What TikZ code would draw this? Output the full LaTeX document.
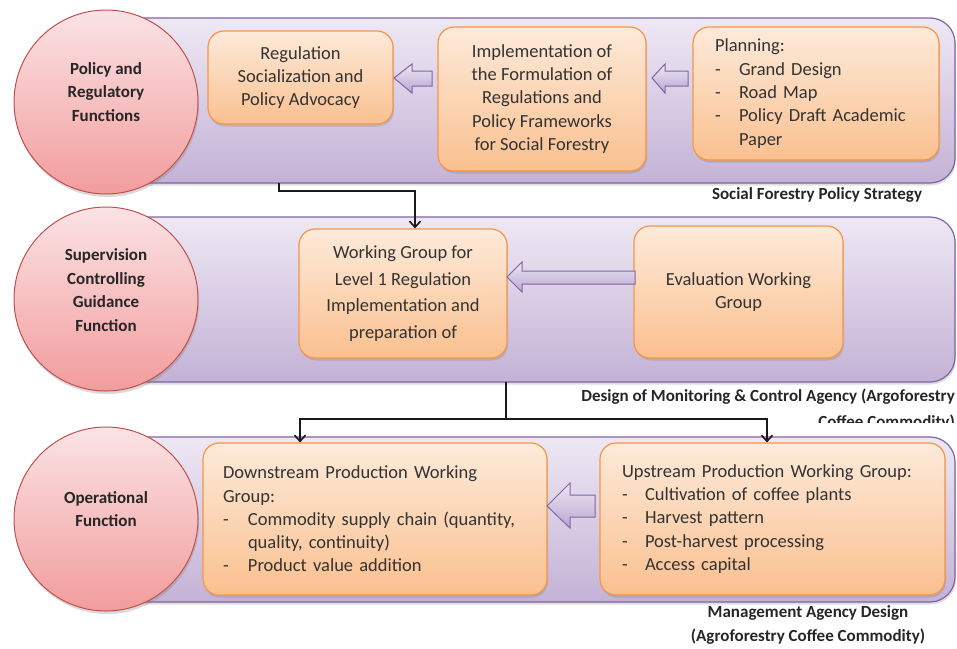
\documentclass[tikz,border=0pt]{standalone}
\usepackage{fontspec}
\setmainfont{Carlito}
\usetikzlibrary{arrows.meta,shadows,calc}
\definecolor{panTop}{HTML}{EEE8F4}
\definecolor{panBot}{HTML}{C4B2D6}
\definecolor{panEdge}{HTML}{8064A2}
\definecolor{boxTop}{HTML}{FDEADA}
\definecolor{boxBot}{HTML}{FAC08F}
\definecolor{boxEdge}{HTML}{F79646}
\definecolor{circTop}{HTML}{FBE3E5}
\definecolor{circBot}{HTML}{F29C9C}
\definecolor{circEdge}{HTML}{C0504D}
\definecolor{arrTop}{HTML}{EEE7F5}
\definecolor{arrBot}{HTML}{B9A6D0}
\definecolor{txt}{HTML}{333333}
\tikzset{
  panel/.style={draw=panEdge, line width=1.2pt, rounded corners=25pt, top color=panTop, bottom color=panBot,
    drop shadow={opacity=0.25, shadow xshift=1pt, shadow yshift=-2.5pt}, inner sep=0pt},
  orbox/.style={draw=boxEdge, line width=1.2pt, rounded corners=16pt, top color=boxTop, bottom color=boxBot,
    drop shadow={opacity=0.3, shadow xshift=1pt, shadow yshift=-2.5pt}, inner sep=0pt, text=txt,
    font=\fontsize{18.5}{23.3}\selectfont},
  circ/.style={circle, draw=circEdge, line width=1pt, top color=circTop, bottom color=circBot, minimum size=184pt,
    inner sep=0pt, drop shadow={opacity=0.3, shadow xshift=1pt, shadow yshift=-3pt}},
  circtext/.style={align=center, text=black!85, inner sep=0pt, font=\fontsize{17}{23.5}\selectfont\bfseries},
  blockarr/.style={draw=panEdge, line width=1pt, top color=arrTop, bottom color=arrBot, line join=miter},
  conn/.style={line width=2.2pt, black!90},
  tip/.style={-{Straight Barb[length=6pt,width=11pt,line width=1.6pt]}},
  lab/.style={font=\fontsize{17}{24}\selectfont\bfseries, text=black!85, inner sep=0pt}
}
\newcommand{\dashitem}[2]{\makebox[#1][l]{-}#2}
\begin{document}
\begin{tikzpicture}[x=1pt,y=-1pt]
\useasboundingbox (0,0) rectangle (957,648);
% panels
\node[panel, minimum width=835pt, minimum height=165pt] (p1) at (537.5,100.5) {};
\node[panel, minimum width=835pt, minimum height=165pt] (p2) at (537.5,299.5) {};
\node[panel, minimum width=835pt, minimum height=165pt] (p3) at (537.5,519.5) {};
% circles
\node[circ] (c1) at (106,102) {};
\node[circtext] (t1) at (106,92) {Policy and\\Regulatory\\Functions};
\node[circ] (c2) at (106,299) {};
\node[circtext] (t2) at (106,290) {Supervision\\Controlling\\Guidance\\Function};
\node[circ] (c3) at (106,519) {};
\node[circtext] (t3) at (106,509) {Operational\\Function};
% row 1 boxes
\node[orbox, minimum width=185pt, minimum height=93pt, align=center] (A) at (300.5,77.5)
  {Regulation\\Socialization and\\Policy Advocacy};
\node[orbox, minimum width=208pt, minimum height=144pt, align=center] (B) at (542,99)
  {Implementation of\\the Formulation of\\Regulations and\\Policy Frameworks\\for Social Forestry};
\node[orbox, minimum width=246pt, minimum height=133pt, text width=202pt, align=left] (C) at (816,93.5)
  {Planning:\\\dashitem{24pt}{Grand Design}\\\dashitem{24pt}{Road Map}\\\dashitem{24pt}{Policy Draft Academic}\\\hspace*{24pt}Paper};
% row 2 boxes
\node[orbox, minimum width=208pt, minimum height=129pt, align=center, font=\fontsize{18.5}{26.7}\selectfont] (D) at (403,293.5)
  {Working Group for\\Level 1 Regulation\\Implementation and\\preparation of};
\node[orbox, minimum width=209pt, minimum height=132pt, align=center] (E) at (738.5,292)
  {Evaluation Working\\Group};
% row 3 boxes
\node[orbox, minimum width=344pt, minimum height=152pt, text width=304pt, align=left] (F) at (375,519)
  {Downstream Production Working\\Group:\\\dashitem{25pt}{Commodity supply chain (quantity,}\\\hspace*{25pt}quality, continuity)\\\dashitem{25pt}{Product value addition}};
\node[orbox, minimum width=345pt, minimum height=152pt, text width=301pt, align=left] (G) at (772.5,519)
  {Upstream Production Working Group:\\\dashitem{23pt}{Cultivation of coffee plants}\\\dashitem{23pt}{Harvest pattern}\\\dashitem{23pt}{Post-harvest processing}\\\dashitem{23pt}{Access capital}};
% block arrows
\draw[blockarr] (394,78) -- (412,64) -- (412,71) -- (432,71) -- (432,86) -- (412,86) -- (412,93) -- cycle;
\draw[blockarr] (652,78) -- (665,64) -- (665,71) -- (688,71) -- (688,86) -- (665,86) -- (665,93) -- cycle;
\draw[blockarr] (507,277) -- (522,262) -- (522,271) -- (635,271) -- (635,284) -- (522,284) -- (522,292) -- cycle;
\draw[blockarr] (547,506) -- (570,483) -- (570,495) -- (595,495) -- (595,517) -- (570,517) -- (570,528) -- cycle;
% connectors
\coordinate (s1) at (279,183);
\coordinate (j1) at (415,191);
\draw[conn, tip] (s1) |- (j1) -- (j1 |- D.north);
\coordinate (s2) at (506,382);
\coordinate (j2) at (506,419);
\coordinate (fl) at (300,419);
\coordinate (gr) at (767,419);
\draw[conn] (s2) -- (j2);
\draw[conn, line cap=rect] (fl) -- (gr);
\draw[conn, tip] (fl) -- (fl |- F.north);
\draw[conn, tip] (gr) -- (gr |- G.north);
% labels
\node[lab] (L1) at (817,195) {Social Forestry Policy Strategy};
\node[lab, anchor=east] (L2) at (955,397) {Design of Monitoring \& Control Agency (Argoforestry};
\begin{scope}
\clip (700,405) rectangle (957,422);
\node[lab, anchor=east] (L2b) at (955,423) {Coffee Commodity)};
\end{scope}
\node[lab] (L3a) at (808,613) {Management Agency Design};
\node[lab] (L3b) at (808,637) {(Agroforestry Coffee Commodity)};
\end{tikzpicture}
\end{document}
